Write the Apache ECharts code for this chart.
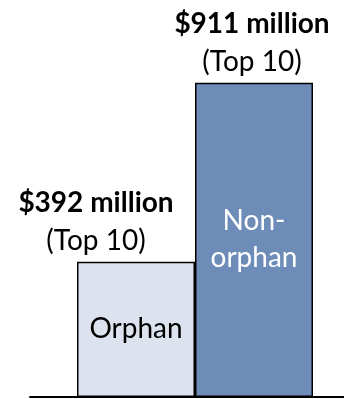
<!DOCTYPE html>
<html>
<head>
<meta charset="utf-8">
<script src="https://cdn.jsdelivr.net/npm/echarts@6/dist/echarts.min.js"></script>
<style>
  html, body { margin: 0; padding: 0; background: #fff; }
  #chart { width: 344px; height: 399px; }
</style>
</head>
<body>
<div id="chart"></div>
<script>
const categories = ['Orphan', 'Non-orphan'];
const barTexts = ['Orphan', 'Non-\norphan'];
const values = [392, 911];
const amountLabels = ['$392 million', '$911 million'];
const rankLabels = ['(Top 10)', '(Top 10)'];

const fillColors = ['#dde3ee', '#6e8cb8'];
const innerColors = ['#000', '#fff'];
// top labels are not centred on their bars in the original
const topLabelShift = [[-40, 0], [-2, 0]];

const fontFamily = 'Lato, "Open Sans", sans-serif';

let chart = echarts.init(document.getElementById('chart'));

let barSeries = {
    type: 'bar',
    xAxisIndex: 0,
    yAxisIndex: 0,
    barWidth: 118,
    barGap: '-100%',
    silent: true,
    data: values.map((v, i) => ({
        value: v,
        itemStyle: { color: fillColors[i], borderColor: '#000', borderWidth: 1.5 },
        label: {
            show: true,
            position: 'inside',
            formatter: barTexts[i],
            color: innerColors[i],
            fontFamily: fontFamily,
            fontSize: 28,
            lineHeight: 37
        }
    }))
};

let topLabelSeries = {
    type: 'bar',
    xAxisIndex: 0,
    yAxisIndex: 0,
    barWidth: 118,
    barGap: '-100%',
    silent: true,
    z: 3,
    data: values.map((v, i) => ({
        value: v,
        itemStyle: { color: 'transparent' },
        label: {
            show: true,
            position: 'top',
            distance: 2,
            offset: topLabelShift[i],
            formatter: '{a|' + amountLabels[i] + '}\n{b|' + rankLabels[i] + '}',
            rich: {
                a: { fontFamily: fontFamily, fontSize: 28, fontWeight: 'bold', color: '#000', lineHeight: 38, align: 'center' },
                b: { fontFamily: fontFamily, fontSize: 28, color: '#000', lineHeight: 38, align: 'center' }
            }
        }
    }))
};

let option = {
    animation: false,
    grid: [
        { left: 77, right: 31, top: 52, bottom: 2 },
        { left: 30, right: 0, top: 52, bottom: 2 }
    ],
    xAxis: [
        {
            type: 'category',
            gridIndex: 0,
            data: categories,
            show: false
        },
        {
            type: 'value',
            gridIndex: 1,
            min: 0,
            max: 1,
            axisLine: { show: true, lineStyle: { color: '#000', width: 2 } },
            axisTick: { show: false },
            axisLabel: { show: false },
            splitLine: { show: false }
        }
    ],
    yAxis: [
        { type: 'value', gridIndex: 0, min: 0, max: 1000, show: false },
        { type: 'value', gridIndex: 1, min: 0, max: 1000, show: false }
    ],
    series: [barSeries, topLabelSeries]
};

chart.setOption(option);
</script>
</body>
</html>
